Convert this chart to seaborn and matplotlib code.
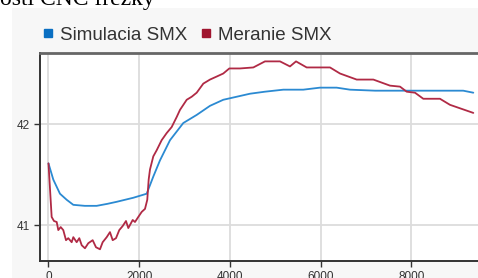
import pandas as pd
import matplotlib
matplotlib.use('Agg')
import matplotlib.pyplot as plt
import seaborn as sns
from matplotlib.lines import Line2D
from matplotlib.patches import Rectangle

# Simulacia SMX
sim_x = [0, 106, 253, 401, 547, 800, 1062, 1300, 1503, 1869, 2164, 2310, 2457, 2678,
         2971, 3266, 3559, 3852, 4147, 4441, 4771, 5175, 5615, 5983, 6350, 6645,
         7200, 8040, 8600, 9140, 9362]
sim_y = [41.61, 41.45, 41.31, 41.25, 41.20, 41.19, 41.19, 41.21, 41.23, 41.27, 41.31,
         41.48, 41.64, 41.84, 42.01, 42.09, 42.18, 42.24, 42.27, 42.30, 42.32, 42.34,
         42.34, 42.36, 42.36, 42.34, 42.33, 42.33, 42.33, 42.33, 42.31]

# Meranie SMX
mer_x = [0, 70, 121, 181, 216, 269, 326, 386, 436, 511, 547, 621, 679, 732, 804, 877,
         974, 1047, 1135, 1194, 1283, 1355, 1415, 1488, 1560, 1635, 1708, 1759, 1856,
         1906, 1979, 2054, 2127, 2177, 2208, 2237, 2310, 2384, 2494, 2604, 2715, 2826,
         2898, 3046, 3156, 3266, 3412, 3559, 3707, 3852, 3985, 4220, 4514, 4771, 5102,
         5322, 5455, 5690, 6204, 6424, 6792, 7159, 7526, 7747, 7894, 8077, 8260, 8627,
         8848, 9362]
mer_y = [41.61, 41.08, 41.04, 41.03, 40.95, 40.98, 40.95, 40.85, 40.87, 40.83, 40.88,
         40.83, 40.87, 40.80, 40.77, 40.82, 40.85, 40.78, 40.76, 40.83, 40.88, 40.93,
         40.85, 40.87, 40.95, 40.99, 41.04, 40.97, 41.05, 41.03, 41.08, 41.13, 41.16,
         41.25, 41.45, 41.55, 41.68, 41.74, 41.84, 41.91, 41.97, 42.07, 42.14, 42.24,
         42.27, 42.31, 42.40, 42.44, 42.47, 42.50, 42.55, 42.55, 42.56, 42.62, 42.62,
         42.57, 42.62, 42.56, 42.56, 42.50, 42.44, 42.44, 42.38, 42.37, 42.32, 42.31,
         42.25, 42.25, 42.19, 42.11]

series = ['Simulacia SMX', 'Meranie SMX']
colors = {'Simulacia SMX': '#2b8ad2', 'Meranie SMX': '#b02a45'}
legend_colors = ['#0a6fc2', '#a0152f']

df = pd.concat([
    pd.DataFrame({'x': sim_x, 'y': sim_y, 'serie': series[0]}),
    pd.DataFrame({'x': mer_x, 'y': mer_y, 'serie': series[1]}),
])

sns.set_style('white')
plt.rcParams['font.family'] = ['Liberation Sans', 'DejaVu Sans']

fig = plt.figure(figsize=(4.78, 2.78), dpi=100)
fig.patch.set_facecolor('white')
# svetlosivy panel za grafom
fig.patches.append(Rectangle((12 / 478, 0), 1, 1 - 8 / 278, transform=fig.transFigure,
                             facecolor='#f7f7f7', edgecolor='none', zorder=-5))
fig.text(0, 1 - 5 / 278, 'osti CNC frézky', family='Liberation Serif', fontsize=17,
         va='baseline', ha='left', color='black')

ax = fig.add_axes([40 / 478, 17 / 278, 450 / 478, 208 / 278])
ax.set_facecolor('white')
sns.lineplot(data=df, x='x', y='y', hue='serie', palette=colors, estimator=None,
             sort=False, linewidth=1.3, ax=ax, legend=False)

ax.set_xlim(-187, 9730)
ax.set_ylim(40.644, 42.703)
ax.set_xticks([0, 2000, 4000, 6000, 8000])
ax.set_yticks([41, 42])
ax.set_xlabel('')
ax.set_ylabel('')
ax.grid(True, color='#dcdcdc', linewidth=1.3)
ax.tick_params(axis='both', labelsize=8.5, colors='#333333', length=4, width=1,
               direction='out', left=True, bottom=True)
for s in ['left', 'bottom']:
    ax.spines[s].set_color('#333333')
    ax.spines[s].set_linewidth(1.4)
ax.spines['top'].set_color('#666666')
ax.spines['top'].set_linewidth(2)
ax.spines['right'].set_visible(False)

handles = [Line2D([], [], marker='s', linestyle='', color=c, markersize=6) for c in legend_colors]
fig.legend(handles, series, loc='center left', bbox_to_anchor=(35 / 478, 1 - 35 / 278),
           ncol=2, frameon=False, fontsize=13.5, handlelength=0.6, handletextpad=0.35,
           columnspacing=0.7, labelcolor='#333333', borderaxespad=0)

fig.savefig('out.png', dpi=100)
